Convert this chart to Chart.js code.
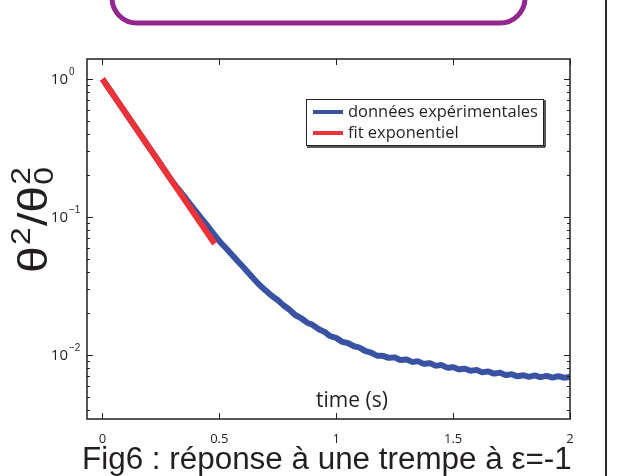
<!DOCTYPE html>
<html>
<head>
<meta charset="utf-8">
<script src="https://cdn.jsdelivr.net/npm/chart.js@4/dist/chart.umd.min.js"></script>
<style>
  html, body { margin: 0; padding: 0; background: #fff; }
  #wrap { width: 624px; height: 476px; position: relative; }
</style>
</head>
<body>
<div id="wrap"><canvas id="graph"></canvas></div>
<script>
const ctx = document.getElementById('graph').getContext('2d')

const timeS = [
  0, 0.025, 0.05, 0.075, 0.1, 0.125, 0.15, 0.175, 0.2, 0.225,
  0.25, 0.275, 0.3, 0.325, 0.35, 0.375, 0.4, 0.425, 0.45, 0.475,
  0.5, 0.525, 0.55, 0.575, 0.6, 0.625, 0.65, 0.675, 0.7, 0.725,
  0.75, 0.775, 0.8, 0.825, 0.85, 0.875, 0.9, 0.925, 0.95, 0.975,
  1.0, 1.025, 1.05, 1.075, 1.1, 1.125, 1.15, 1.175, 1.2, 1.225,
  1.25, 1.275, 1.3, 1.325, 1.35, 1.375, 1.4, 1.425, 1.45, 1.475,
  1.5, 1.525, 1.55, 1.575, 1.6, 1.625, 1.65, 1.675, 1.7, 1.725,
  1.75, 1.775, 1.8, 1.825, 1.85, 1.875, 1.9, 1.925, 1.95, 1.975, 2.0,
]
const measured = [
  1.0, 0.867, 0.752, 0.652, 0.565, 0.49, 0.425, 0.368, 0.319, 0.277,
  0.24, 0.208, 0.18, 0.159, 0.141, 0.124, 0.11, 0.0971, 0.0859, 0.0759,
  0.067, 0.0603, 0.0542, 0.0486, 0.0438, 0.0393, 0.0353, 0.0318, 0.0292, 0.0268,
  0.0250, 0.0229, 0.0213, 0.0195, 0.0185, 0.0172, 0.0165, 0.0154, 0.0147, 0.0137,
  0.0133, 0.0125, 0.0122, 0.0116, 0.0113, 0.0107, 0.0104, 0.00990, 0.00985, 0.00955,
  0.00960, 0.00920, 0.00928, 0.00892, 0.00900, 0.00865, 0.00872, 0.00838, 0.00845, 0.00810,
  0.00816, 0.00787, 0.00796, 0.00770, 0.00778, 0.00750, 0.00760, 0.00734, 0.00744, 0.00717,
  0.00727, 0.00702, 0.00714, 0.00696, 0.00710, 0.00692, 0.00706, 0.00688, 0.00703, 0.00686, 0.00695,
]

// exponential fit, straight on the log axis
const fitTime = [0, 0.48]
const fitValues = [1.0, 0.064]

const xTicks = [0, 0.5, 1, 1.5, 2]
const xTickLabels = ['0', '0.5', '1', '1.5', '2']
const yTicks = [0.01, 0.1, 1]
const yTickExp = ['\u22122', '\u22121', '0']

const seriesLabels = ['données expérimentales', 'fit exponentiel']
const titleText = 'Fig6 : réponse à une trempe à ε=-1'
const xTitle = 'time (s)'

const INK = '#231f20'

const points = (xs, ys) => xs.map((x, i) => ({ x: x, y: ys[i] }))

function line(c, x1, y1, x2, y2) {
  c.beginPath(); c.moveTo(x1, y1); c.lineTo(x2, y2); c.stroke()
}

function fitFont(c, text, family, base, width) {
  c.font = base + 'px ' + family
  return base * width / c.measureText(text).width
}

const decor = {
  id: 'decor',
  beforeDraw(chart) {
    const c = chart.ctx
    c.save()
    // purple frame at the top of the slide
    c.strokeStyle = '#93278f'
    c.lineWidth = 5
    const l = 112, r = 525, b = 23, t = -60, rad = 25
    c.beginPath()
    c.moveTo(l, t)
    c.lineTo(l, b - rad)
    c.arcTo(l, b, l + rad, b, rad)
    c.lineTo(r - rad, b)
    c.arcTo(r, b, r, b - rad, rad)
    c.lineTo(r, t)
    c.stroke()
    // slide divider on the right
    c.strokeStyle = '#2b2b2b'
    c.lineWidth = 2
    line(c, 606, 0, 606, 476)
    c.restore()
  },
  afterDraw(chart) {
    const c = chart.ctx
    const a = chart.chartArea
    const xs = chart.scales.x, ys = chart.scales.y
    c.save()
    c.strokeStyle = INK
    c.fillStyle = INK

    // box
    c.lineWidth = 1.5
    c.strokeRect(a.left, a.top, a.right - a.left, a.bottom - a.top)

    // x ticks, inside, top and bottom
    c.lineWidth = 1
    xTicks.forEach(v => {
      const px = Math.round(xs.getPixelForValue(v)) + 0.5
      line(c, px, a.bottom, px, a.bottom - 6)
      line(c, px, a.top, px, a.top + 6)
    })

    // y ticks, major and minor, left and right
    for (let d = -3; d <= 0; d++) {
      for (let m = 1; m <= 9; m++) {
        const v = m * Math.pow(10, d)
        if (v < ys.min || v > ys.max) continue
        const py = Math.round(ys.getPixelForValue(v)) + 0.5
        const len = m === 1 ? 6 : 3
        line(c, a.left, py, a.left + len, py)
        line(c, a.right, py, a.right - len, py)
      }
    }

    // y tick labels 10^n
    yTicks.forEach((v, i) => {
      const py = ys.getPixelForValue(v)
      c.font = '15px "Open Sans", sans-serif'
      c.textAlign = 'right'
      c.textBaseline = 'middle'
      c.fillText('10', a.left - 19, py + 1)
      c.font = '10px "Liberation Sans", Arial, sans-serif'
      c.textAlign = 'left'
      c.fillText(yTickExp[i], a.left - 18, py - 7)
    })

    // y axis title: theta^2 / theta_0^2, rotated, stretched to its length
    c.save()
    c.translate(47, 273)
    c.rotate(-Math.PI / 2)
    c.textAlign = 'left'
    c.textBaseline = 'alphabetic'
    const big = '41px "Liberation Sans", Arial, sans-serif'
    const small = '27px "Liberation Sans", Arial, sans-serif'
    c.font = big
    const wTheta = c.measureText('θ').width, wSlash = c.measureText('/θ').width
    c.font = small
    const w2 = c.measureText('2').width
    const total = wTheta + 1 + w2 + 1 + wSlash + 1 + w2
    c.scale(106 / total, 1)
    let x = 0
    c.font = big; c.fillText('θ', x, 0); x += wTheta + 1
    c.font = small; c.fillText('2', x, -17); x += w2 + 1
    c.font = big; c.fillText('/θ', x, 0); x += wSlash + 1
    c.font = small; c.fillText('0', x, 6); c.fillText('2', x, -17)
    c.restore()

    // x title inside the axes
    c.font = '21px "Open Sans", sans-serif'
    c.textAlign = 'center'
    c.textBaseline = 'alphabetic'
    c.fillText(xTitle, 352, 407)

    // figure caption
    const fs = fitFont(c, titleText, '"Liberation Sans", Arial, sans-serif', 29, 490)
    c.font = fs + 'px "Liberation Sans", Arial, sans-serif'
    c.textAlign = 'left'
    c.fillText(titleText, 82, 469)

    // legend
    c.fillStyle = '#fff'
    c.fillRect(306, 99, 238, 47)
    c.strokeStyle = INK
    c.lineWidth = 1
    c.strokeRect(306.5, 99.5, 237, 46)
    c.lineWidth = 1.5
    line(c, 307, 147, 545, 147)
    line(c, 545, 100, 545, 147)
    const lfs = fitFont(c, seriesLabels[0], '"Open Sans", sans-serif', 15, 190)
    chart.data.datasets.forEach((ds, i) => {
      const ly = 112 + i * 21
      c.strokeStyle = ds.borderColor
      c.lineWidth = 4
      line(c, 313, ly, 343, ly)
      c.fillStyle = INK
      c.font = lfs + 'px "Open Sans", sans-serif'
      c.textAlign = 'left'
      c.textBaseline = 'middle'
      c.fillText(ds.label, 348, ly)
    })
    c.restore()
  },
}

let graph = new Chart(ctx, {
  type: 'line',
  data: {
    datasets: [
      {
        label: seriesLabels[0],
        data: points(timeS, measured),
        borderColor: '#3a52a3',
        backgroundColor: 'transparent',
        borderWidth: 6,
        pointRadius: 0,
        tension: 0.3,
        order: 1,
      },
      {
        label: seriesLabels[1],
        data: points(fitTime, fitValues),
        borderColor: '#ee3338',
        backgroundColor: 'transparent',
        borderWidth: 6,
        pointRadius: 0,
        order: 0,
      },
    ],
  },
  options: {
    responsive: true,
    maintainAspectRatio: false,
    animation: false,
    events: [],
    layout: { padding: { left: 0, top: 59, right: 54, bottom: 0 } },
    plugins: {
      legend: { display: false },
      tooltip: { enabled: false },
    },
    scales: {
      x: {
        type: 'linear',
        min: -0.066,
        max: 2,
        grid: { display: false },
        border: { display: false },
        afterBuildTicks: s => { s.ticks = xTicks.map(v => ({ value: v })) },
        afterFit: s => { s.height = 57 },
        ticks: {
          autoSkip: false,
          maxRotation: 0,
          padding: 4,
          color: INK,
          font: { family: '"Open Sans", sans-serif', size: 13 },
          callback: (v) => xTickLabels[xTicks.indexOf(v)],
        },
      },
      y: {
        type: 'logarithmic',
        min: 0.00344,
        max: 1.396,
        grid: { display: false },
        border: { display: false },
        afterBuildTicks: s => { s.ticks = yTicks.map(v => ({ value: v })) },
        afterFit: s => { s.width = 87 },
        ticks: { display: false },
      },
    },
  },
  plugins: [decor],
})
</script>
</body>
</html>
